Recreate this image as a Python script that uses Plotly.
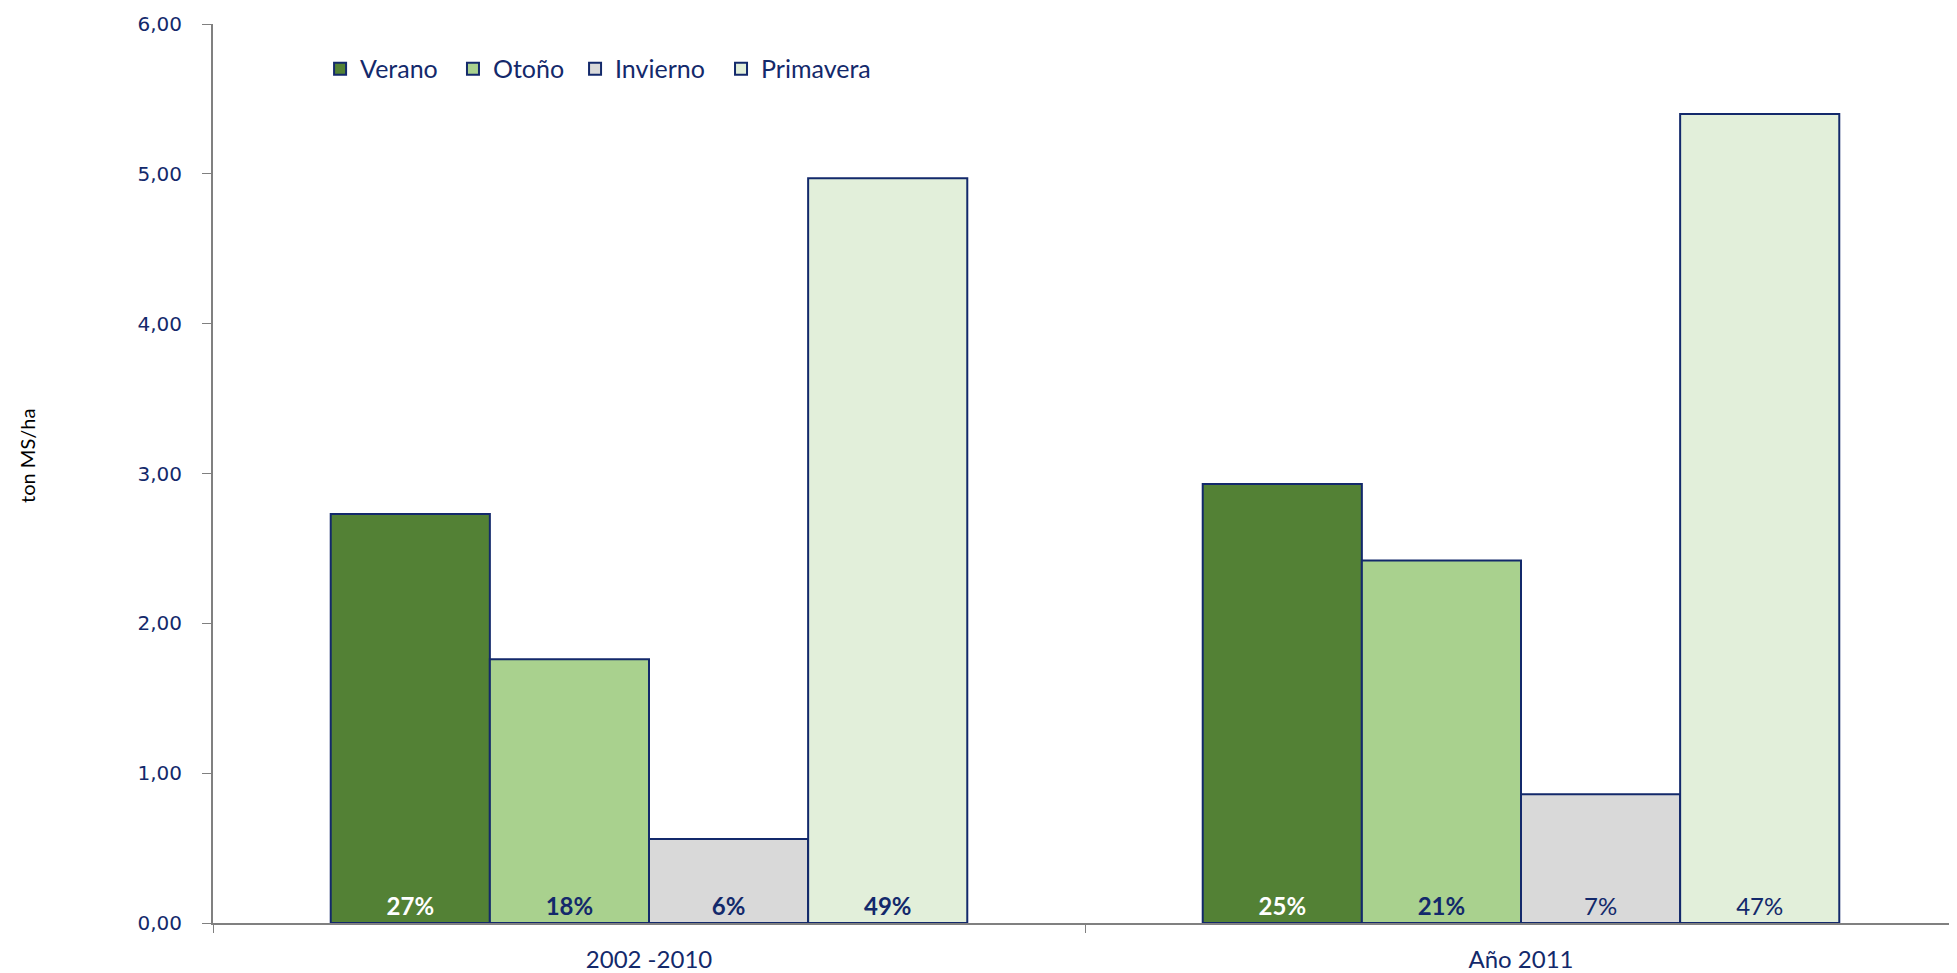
import plotly.graph_objects as go

categories = ["2002 -2010", "Año 2011"]
series_names = ["Verano", "Otoño", "Invierno", "Primavera"]
verano = [2.73, 2.93]
otono = [1.76, 2.42]
invierno = [0.56, 0.86]
primavera = [4.97, 5.40]
pct_verano = ["27%", "25%"]
pct_otono = ["18%", "21%"]
pct_invierno = ["6%", "7%"]
pct_primavera = ["49%", "47%"]
pct_bold = {"Verano": [True, True], "Otoño": [True, True],
            "Invierno": [True, False], "Primavera": [True, False]}
ytick_vals = [0, 1, 2, 3, 4, 5, 6]
ytick_text = ["0,00", "1,00", "2,00", "3,00", "4,00", "5,00", "6,00"]

NAVY = "#13296B"
fills = ["#538135", "#A9D18E", "#D9D9D9", "#E2EFDA"]
text_colors = ["#FFFFFF", NAVY, NAVY, NAVY]
values = [verano, otono, invierno, primavera]
pcts = [pct_verano, pct_otono, pct_invierno, pct_primavera]
legend_ids = ["legend", "legend2", "legend3", "legend4"]
legend_x = [0.0614, 0.1376, 0.2076, 0.2913]

fig = go.Figure()
for name, vals, pct, fc, tc, lg in zip(series_names, values, pcts, fills, text_colors, legend_ids):
    txt = [f"<b>{p}</b>" if b else p for p, b in zip(pct, pct_bold[name])]
    fig.add_trace(go.Bar(
        name=name, x=categories, y=vals, legend=lg,
        marker=dict(color=fc, line=dict(color=NAVY, width=2)),
        text=txt, textposition="inside", insidetextanchor="start",
        textangle=0, constraintext="none",
        textfont=dict(family="Lato", size=24, color=tc),
    ))

legend_style = dict(orientation="h", y=0.95, xanchor="left", yanchor="middle",
                    font=dict(family="Lato", size=25, color=NAVY),
                    itemwidth=30, bgcolor="rgba(0,0,0,0)")
layout_legends = {lg: dict(legend_style, x=lx) for lg, lx in zip(legend_ids, legend_x)}

fig.update_layout(
    width=1949, height=965,
    barmode="group", bargap=0.27, bargroupgap=0,
    plot_bgcolor="white", paper_bgcolor="white",
    margin=dict(l=205, r=0, t=16, b=50),
    font=dict(family="Lato", color=NAVY),
    showlegend=True,
    xaxis=dict(showline=True, linecolor="#808080", linewidth=2,
               ticks="outside", tickson="boundaries", tickcolor="#808080", ticklen=8,
               ticklabelstandoff=14,
               tickfont=dict(family="Lato", size=24, color=NAVY), showgrid=False),
    yaxis=dict(range=[0, 6], tickvals=ytick_vals, ticktext=ytick_text,
               showline=True, linecolor="#808080", linewidth=2,
               ticks="outside", tickcolor="#808080", ticklen=9,
               ticklabelstandoff=16,
               tickfont=dict(family="DejaVu Sans", size=20, color=NAVY),
               showgrid=False, zeroline=False),
    annotations=[dict(text="ton MS/ha", xref="paper", yref="paper",
                      x=-0.107, y=0.52, xanchor="center", yanchor="middle",
                      textangle=-90, showarrow=False,
                      font=dict(family="Lato", size=20, color="#000000"))],
    **layout_legends,
)

fig.write_html("out.html")
